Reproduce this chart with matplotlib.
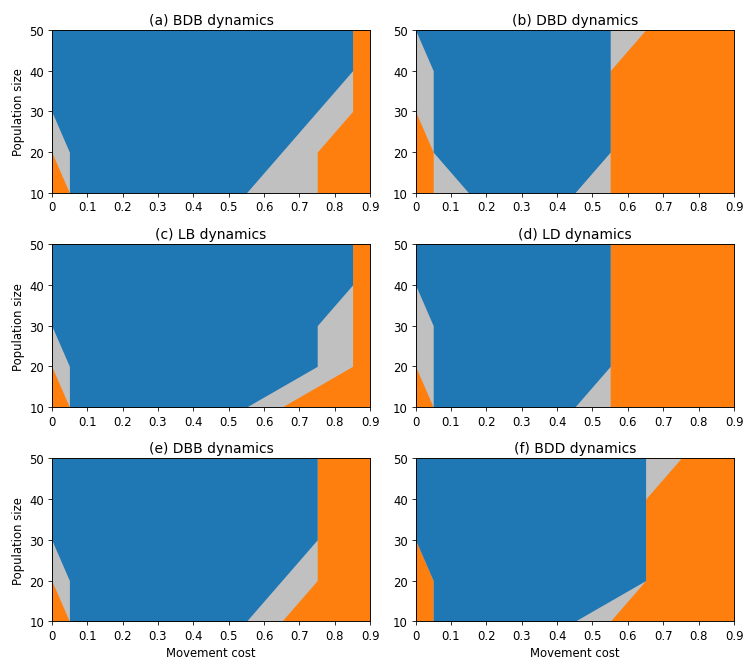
import numpy as np
import matplotlib
matplotlib.use("Agg")
import matplotlib.pyplot as plt

# population sizes where the region boundaries are read
pop = [10, 20, 30, 40, 50]

# movement cost boundaries at each population size:
# left orange | grey | blue | grey | right orange
titles = ['(a) BDB dynamics', '(b) DBD dynamics', '(c) LB dynamics',
          '(d) LD dynamics', '(e) DBB dynamics', '(f) BDD dynamics']

b1 = [[0.05, 0, 0, 0, 0],
      [0.05, 0.05, 0, 0, 0],
      [0.05, 0, 0, 0, 0],
      [0.05, 0, 0, 0, 0],
      [0.05, 0, 0, 0, 0],
      [0.05, 0.05, 0, 0, 0]]
b2 = [[0.05, 0.05, 0, 0, 0],
      [0.15, 0.05, 0.05, 0.05, 0],
      [0.05, 0.05, 0, 0, 0],
      [0.05, 0.05, 0.05, 0, 0],
      [0.05, 0.05, 0, 0, 0],
      [0.05, 0.05, 0, 0, 0]]
b3 = [[0.55, 0.65, 0.75, 0.85, 0.85],
      [0.45, 0.55, 0.55, 0.55, 0.55],
      [0.55, 0.75, 0.75, 0.85, 0.85],
      [0.45, 0.55, 0.55, 0.55, 0.55],
      [0.55, 0.65, 0.75, 0.75, 0.75],
      [0.45, 0.65, 0.65, 0.65, 0.65]]
b4 = [[0.75, 0.75, 0.85, 0.85, 0.85],
      [0.55, 0.55, 0.55, 0.55, 0.65],
      [0.65, 0.85, 0.85, 0.85, 0.85],
      [0.55, 0.55, 0.55, 0.55, 0.55],
      [0.65, 0.75, 0.75, 0.75, 0.75],
      [0.55, 0.65, 0.65, 0.65, 0.75]]

cost_ticks = [0, 0.1, 0.2, 0.3, 0.4, 0.5, 0.6, 0.7, 0.8, 0.9]
cost_labels = ['0', '0.1', '0.2', '0.3', '0.4', '0.5', '0.6', '0.7', '0.8', '0.9']
pop_ticks = [10, 20, 30, 40, 50]

BLUE = '#1f77b4'
ORANGE = '#ff7f0e'
GREY = '#c0c0c0'

plt.rcParams['font.size'] = 11.6
plt.rcParams['axes.linewidth'] = 0.93
plt.rcParams['xtick.major.size'] = 4.1
plt.rcParams['ytick.major.size'] = 4.1

fig, axes = plt.subplots(3, 2, figsize=(10.5, 9.333), dpi=72)
fig.subplots_adjust(left=0.0684, right=0.971, bottom=0.074, top=0.954,
                    wspace=0.142, hspace=0.315)

for i, ax in enumerate(axes.flat):
    y = np.array(pop)
    ax.fill_betweenx(y, 0, 0.9, color=ORANGE, lw=0)
    ax.fill_betweenx(y, b1[i], b4[i], color=GREY, lw=0)
    ax.fill_betweenx(y, b2[i], b3[i], color=BLUE, lw=0)
    ax.set_xlim(0, 0.9)
    ax.set_ylim(10, 50)
    ax.set_xticks(cost_ticks)
    ax.set_xticklabels(cost_labels)
    ax.set_yticks(pop_ticks)
    ax.set_title(titles[i])
    if i % 2 == 0:
        ax.set_ylabel('Population size')
    if i >= 4:
        ax.set_xlabel('Movement cost')

plt.savefig('out.png', dpi=72)
